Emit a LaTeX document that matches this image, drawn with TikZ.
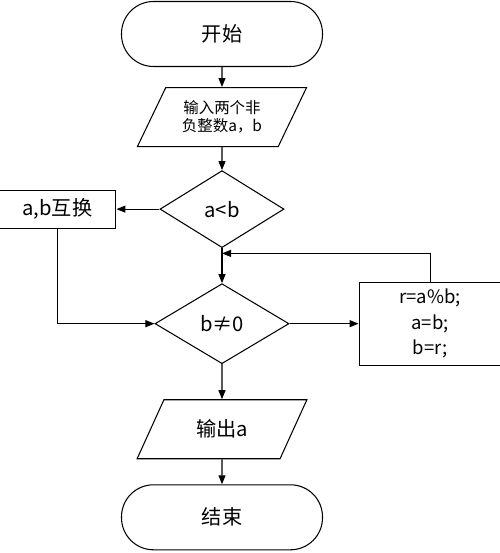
\documentclass[tikz,border=0pt]{standalone}
\usepackage{fontspec}
\setmainfont{Noto Sans CJK SC}
\usetikzlibrary{arrows.meta,positioning,shapes.geometric,calc}
\tikzset{
  terminal/.style={draw,line width=.6pt,rounded corners=.64cm,minimum width=4.02cm,minimum height=1.3cm,font=\fontsize{11.5}{13}\selectfont},
  io/.style={draw,line width=.6pt,trapezium,trapezium left angle=60,trapezium right angle=120,trapezium stretches=true,minimum width=3.4cm,minimum height=1.18cm,align=center,inner sep=1pt},
  decision/.style={draw,line width=.6pt,diamond,inner sep=0pt,font=\fontsize{11.5}{13}\selectfont},
  box/.style={draw,line width=.6pt,align=center,inner sep=2pt},
  flow/.style={-{Triangle[length=1.8mm,width=1.4mm]},line width=.6pt}
}
\begin{document}
\begin{tikzpicture}[node distance=.4cm]
  \useasboundingbox (-4.44,.68) rectangle (5.56,-10.38);
  \node[terminal] (start) at (0,0) {开始};
  \node[io,below=.4cm of start,font=\fontsize{8.8}{10.4}\selectfont] (input) {输入两个非\\负整数a，b};
  \node[decision,minimum width=2.48cm,minimum height=1.54cm,below=.46cm of input] (cmp) {a<b};
  \node[box,minimum width=2.34cm,minimum height=.76cm,left=.86cm of cmp,font=\fontsize{11.5}{13}\selectfont] (swap) {a,b互换};
  \node[decision,minimum width=2.68cm,minimum height=1.6cm,below=.7cm of cmp] (test) {b≠0};
  \node[box,minimum width=2.84cm,minimum height=1.66cm,right=1.38cm of test,font=\fontsize{10.5}{14.5}\selectfont] (update) {r=a\%b;\\a=b;\\b=r;};
  \node[io,below=.7cm of test,font=\fontsize{11.5}{13}\selectfont] (output) {输出a};
  \node[terminal,below=.5cm of output] (stop) {结束};
  \coordinate (merge) at ($(cmp.south)!.15!(test.north)$);
  % main line
  \draw[flow] (start) -- (input);
  \draw[flow] (input) -- (cmp);
  \draw[flow] (cmp) -- (swap);
  \draw[flow] (cmp) -- (test);
  \draw[flow] (swap.south) |- (test.west);
  \draw[flow] (test) -- (update);
  \draw[flow] (update.north) |- (merge);
  \draw[flow] (test) -- (output);
  \draw[flow] (output) -- (stop);
\end{tikzpicture}
\end{document}
